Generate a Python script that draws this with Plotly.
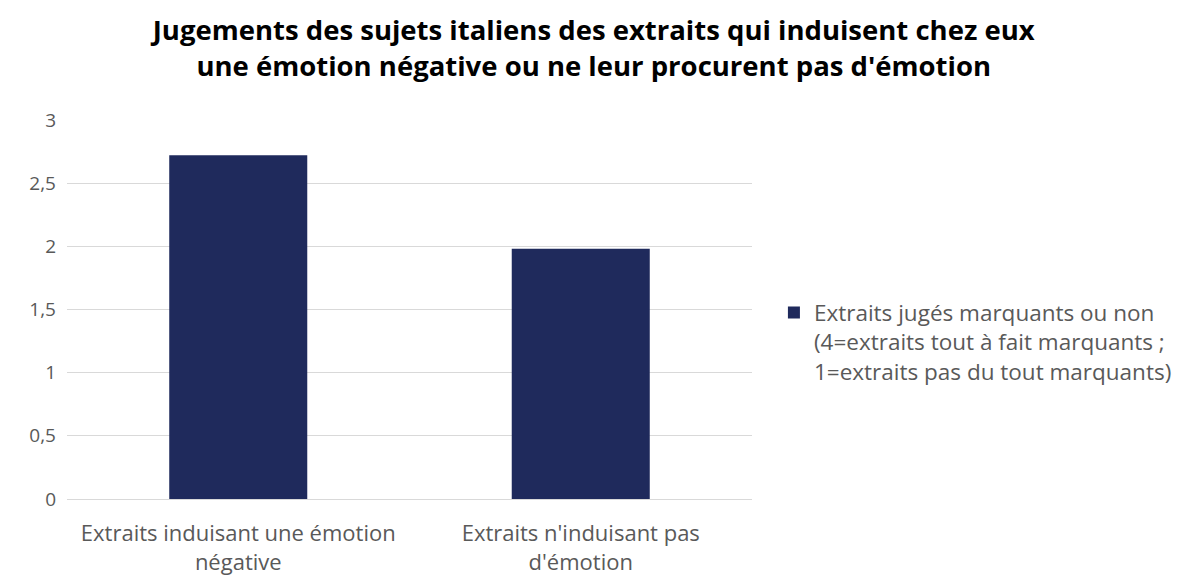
import plotly.graph_objects as go

categories = ["Extraits induisant une émotion<br>négative", "Extraits n'induisant pas<br>d'émotion"]
values = [2.72, 1.98]
series_name = "Extraits jugés marquants ou non<br>(4=extraits tout à fait marquants ;<br>1=extraits pas du tout marquants)"
title_text = ("Jugements des sujets italiens des extraits qui induisent chez eux<br>"
              "une émotion négative ou ne leur procurent pas d'émotion")
y_ticks = [0, 0.5, 1, 1.5, 2, 2.5, 3]

FONT = "'Open Sans', sans-serif"
BAR_COLOR = "#1f2a5c"
TEXT_COLOR = "#595959"

fig = go.Figure()
fig.add_trace(go.Bar(
    x=categories,
    y=values,
    name=series_name,
    marker=dict(color=BAR_COLOR, line=dict(width=0)),
    showlegend=True,
))

fig.update_layout(
    width=1178,
    height=576,
    separators=", ",
    paper_bgcolor="white",
    plot_bgcolor="white",
    margin=dict(l=67, r=426, t=120, b=77, autoexpand=False),
    bargap=0.597,
    font=dict(family=FONT, size=19, color=TEXT_COLOR),
    title=dict(
        text=f"<b>{title_text}</b>",
        x=0.504,
        xanchor="center",
        y=0.93,
        yanchor="top",
        font=dict(family=FONT, size=27.5, color="#000000"),
    ),
    legend=dict(
        x=1.032,
        y=0.548,
        xanchor="left",
        yanchor="top",
        valign="top",
        font=dict(family=FONT, size=22.5, color=TEXT_COLOR),
        itemwidth=30,
    ),
    xaxis=dict(
        showgrid=False,
        showline=False,
        ticks="",
        automargin=False,
        ticklabelstandoff=19,
        tickfont=dict(family=FONT, size=22, color=TEXT_COLOR),
    ),
    yaxis=dict(
        range=[0, 3],
        tickvals=y_ticks,
        showgrid=True,
        gridcolor="#d9d9d9",
        gridwidth=1,
        zeroline=True,
        zerolinecolor="#d9d9d9",
        zerolinewidth=1,
        showline=False,
        ticks="",
        automargin=False,
        ticklabelstandoff=10,
        tickfont=dict(family=FONT, size=19, color=TEXT_COLOR),
    ),
)

fig.write_html("out.html")
